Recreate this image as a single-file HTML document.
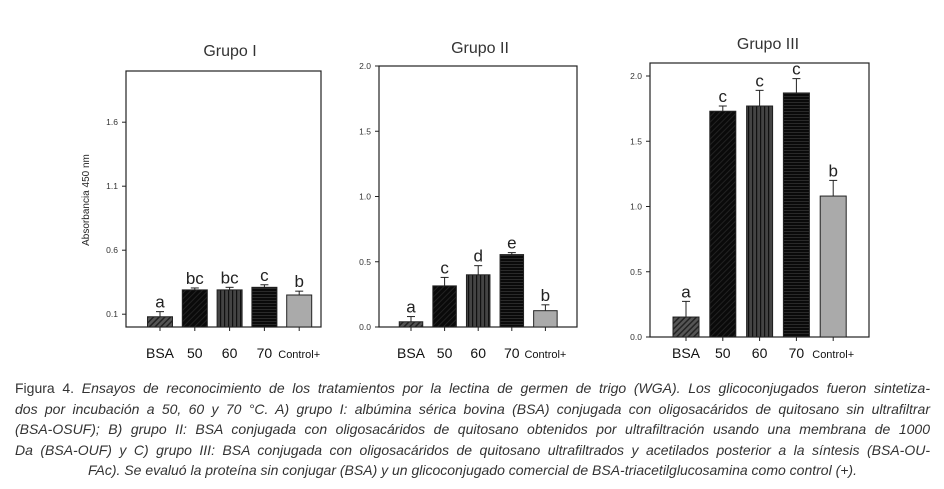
<!DOCTYPE html>
<html><head><meta charset="utf-8">
<style>
body{margin:0;background:#fff;width:944px;height:489px;overflow:hidden;position:relative;font-family:"Liberation Sans",sans-serif}
#cap{position:absolute;left:15px;top:378px;width:915px;font-size:14px;color:#333;line-height:20.6px}
#cap div{text-align:justify;text-align-last:justify;white-space:nowrap}
#cap div.last{text-align:center;text-align-last:center}
</style></head><body>
<svg id="chart" width="944" height="375" style="position:absolute;left:0;top:0">
<defs>
<pattern id="pBSA" patternUnits="userSpaceOnUse" width="4" height="4" patternTransform="rotate(45)"><rect width="4" height="4" fill="#555"/><rect width="1.5" height="4" fill="#222"/></pattern>
<pattern id="p50" patternUnits="userSpaceOnUse" width="4" height="4" patternTransform="rotate(45)"><rect width="4" height="4" fill="#0a0a0a"/><rect width="1" height="4" fill="#222"/></pattern>
<pattern id="p60" patternUnits="userSpaceOnUse" width="4" height="4"><rect width="4" height="4" fill="#444"/><rect width="1.2" height="4" fill="#111"/></pattern>
<pattern id="p70" patternUnits="userSpaceOnUse" width="4" height="3"><rect width="4" height="3" fill="#0a0a0a"/><rect width="4" height="1" fill="#2a2a2a"/></pattern>
</defs>
</svg>
<div id="cap">
<div>Figura 4. <i>Ensayos de reconocimiento de los tratamientos por la lectina de germen de trigo (WGA). Los glicoconjugados fueron sintetiza-</i></div>
<div><i>dos por incubación a 50, 60 y 70 °C. A) grupo I: albúmina sérica bovina (BSA) conjugada con oligosacáridos de quitosano sin ultrafiltrar</i></div>
<div><i>(BSA-OSUF); B) grupo II: BSA conjugada con oligosacáridos de quitosano obtenidos por ultrafiltración usando una membrana de 1000</i></div>
<div><i>Da (BSA-OUF) y C) grupo III: BSA conjugada con oligosacáridos de quitosano ultrafiltrados y acetilados posterior a la síntesis (BSA-OU-</i></div>
<div class="last"><i>FAc). Se evaluó la proteína sin conjugar (BSA) y un glicoconjugado comercial de BSA-triacetilglucosamina como control (+).</i></div>
</div>
<script>
const categories=["BSA","50","60","70","Control+"];
const g1Values=[0.08,0.29,0.29,0.31,0.25];
const g1Errors=[0.04,0.015,0.02,0.02,0.03];
const g1Letters=["a","bc","bc","c","b"];
const g1Ticks=[0.1,0.6,1.1,1.6];
const g2Values=[0.04,0.315,0.40,0.555,0.125];
const g2Errors=[0.04,0.065,0.07,0.015,0.045];
const g2Letters=["a","c","d","e","b"];
const g2Ticks=[0.0,0.5,1.0,1.5,2.0];
const g3Values=[0.153,1.73,1.77,1.87,1.08];
const g3Errors=[0.12,0.04,0.12,0.11,0.12];
const g3Letters=["a","c","c","c","b"];
const g3Ticks=[0.0,0.5,1.0,1.5,2.0];
const titles=["Grupo I","Grupo II","Grupo III"];

const svg=document.getElementById('chart');
const NS="http://www.w3.org/2000/svg";
function mk(tag,attrs,parent){const e=document.createElementNS(NS,tag);for(const k in attrs)e.setAttribute(k,attrs[k]);(parent||svg).appendChild(e);return e;}
const fills=["url(#pBSA)","url(#p50)","url(#p60)","url(#p70)","#aaaaaa"];

function panel(cfg,vals,errs,letters,ticks,title,idx){
  const g=mk('g',{});
  
  
  const y=v=>cfg.bottom-(v-cfg.min)/(cfg.max-cfg.min)*(cfg.bottom-cfg.top);
  const x=i=>cfg.first+i*cfg.step;
  const fr=mk('rect',{x:cfg.left,y:cfg.ftop,width:cfg.right-cfg.left,height:cfg.bottom-cfg.ftop,fill:'none',stroke:'#222','stroke-width':1.2},g);
  
  
  ticks.forEach(t=>{
    mk('line',{x1:cfg.left-4,x2:cfg.left,y1:y(t),y2:y(t),stroke:'#222'},g);
    const tl=mk('text',{x:cfg.left-8,y:y(t)+3,'text-anchor':'end','font-size':8.5,fill:'#333'},g);
    tl.textContent=t.toFixed(1);
    
    
  });
  vals.forEach((v,i)=>{
    const cx=x(i);
    const b=mk('rect',{x:cx-cfg.bw/2,y:y(v),width:cfg.bw,height:cfg.bottom-y(v),fill:fills[i],stroke:'#222','stroke-width':1},g);
    
    
    const et=y(v+errs[i]);
    mk('line',{x1:cx,x2:cx,y1:y(v),y2:et,stroke:'#222','stroke-width':1},g);
    mk('line',{x1:cx-4,x2:cx+4,y1:et,y2:et,stroke:'#222','stroke-width':1},g);
    const lt=mk('text',{x:cx,y:et-4,'text-anchor':'middle','font-size':17,fill:'#222'},g);
    lt.textContent=letters[i];
    
    
    mk('line',{x1:cx,x2:cx,y1:cfg.bottom,y2:cfg.bottom+4,stroke:'#222'},g);
    const cl=mk('text',{x:cx,y:358,'text-anchor':'middle','font-size':i==4?11:14,fill:'#111'},g);
    cl.textContent=categories[i];
    
    
  });
  const tt=mk('text',{x:cfg.tx,y:cfg.ty,'text-anchor':'middle','font-size':16,fill:'#333'},g);
  tt.textContent=title;
  
  
}
panel({left:126,right:321,ftop:71,top:71,bottom:327,min:0,max:2,first:160,step:34.8,bw:25,tx:230,ty:56},g1Values,g1Errors,g1Letters,g1Ticks,titles[0],0);
panel({left:379,right:577,ftop:66,top:66,bottom:327,min:0,max:2,first:411,step:33.6,bw:23.5,tx:480,ty:53},g2Values,g2Errors,g2Letters,g2Ticks,titles[1],1);
panel({left:650,right:869,ftop:63,top:76,bottom:337,min:0,max:2,first:686,step:36.8,bw:26,tx:768,ty:49},g3Values,g3Errors,g3Letters,g3Ticks,titles[2],2);
const yl=mk('text',{x:0,y:0,transform:'translate(89,200) rotate(-90)','text-anchor':'middle','font-size':10,fill:'#222'});
yl.textContent="Absorbancia 450 nm";


</script>
</body></html>
